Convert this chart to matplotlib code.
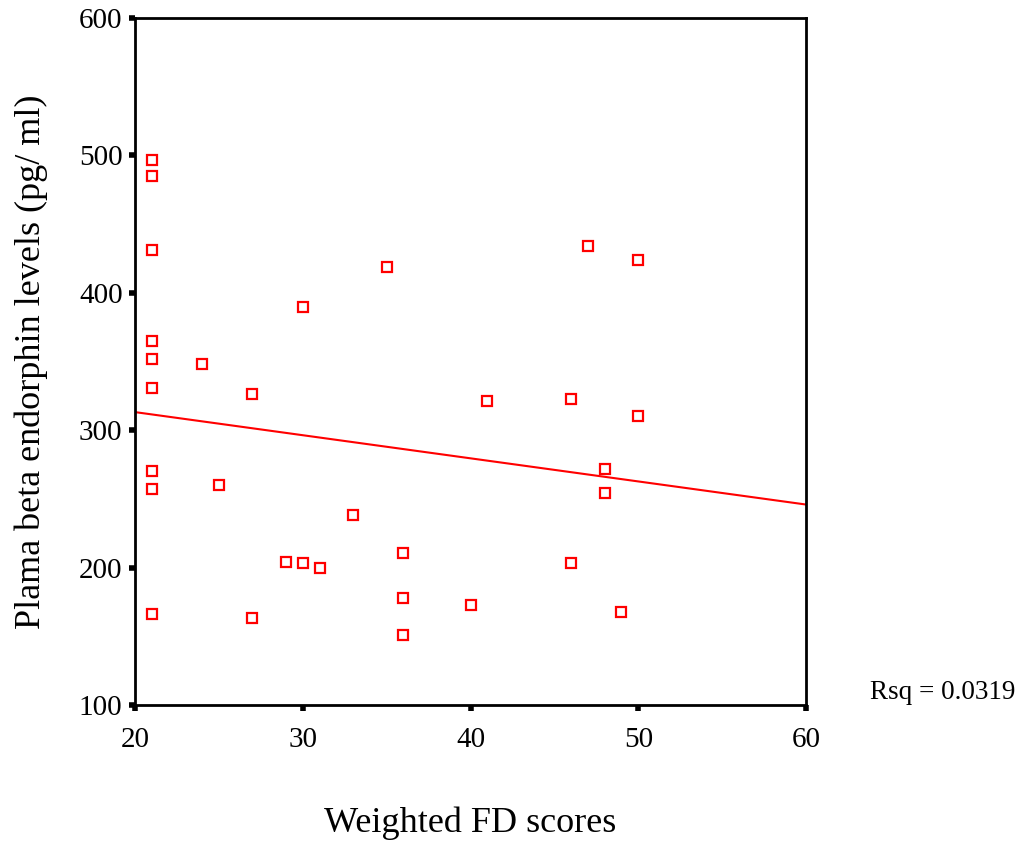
import numpy as np
import matplotlib
matplotlib.use("Agg")
import matplotlib.pyplot as plt

plt.rcParams["font.family"] = ["Liberation Serif", "DejaVu Serif"]

# weighted FD scores vs plasma beta endorphin (pg/ml)
fd_scores = [21, 21, 21, 21, 21, 21, 21, 21, 21,
             24, 25, 27, 27, 29, 30, 30, 31, 33, 35,
             36, 36, 36, 40, 41, 46, 46, 47, 48, 48, 49, 50, 50]
endorphin = [497, 485, 431, 365, 352, 331, 270, 257, 166,
             348, 260, 326, 163, 204, 203, 390, 200, 238, 419,
             211, 178, 151, 173, 321, 323, 203, 434, 272, 254, 168, 424, 310]
rsq_label = "Rsq = 0.0319"
x_ticks = [20, 30, 40, 50, 60]
y_ticks = [100, 200, 300, 400, 500, 600]

x = np.array(fd_scores, dtype=float)
y = np.array(endorphin, dtype=float)
slope, intercept = np.polyfit(x, y, 1)

fig = plt.figure(figsize=(10.29, 8.48), dpi=100)
ax = fig.add_axes([0.1312, 0.1686, 0.6521, 0.8102])

ax.plot(x, y, linestyle="none", marker="s", markersize=7.5,
        markerfacecolor="none", markeredgecolor="red", markeredgewidth=1.6)
xl = np.array([20, 60])
ax.plot(xl, intercept + slope * xl, color="red", linewidth=1.5)

ax.set_xlim(20, 60)
ax.set_ylim(100, 600)
ax.set_xticks(x_ticks)
ax.set_yticks(y_ticks)
ax.tick_params(direction="out", length=4, width=4, labelsize=21)
ax.tick_params(axis="x", pad=12)
ax.tick_params(axis="y", pad=5)
for s in ax.spines.values():
    s.set_linewidth(2)

ax.set_xlabel("Weighted FD scores", fontsize=26, labelpad=38)
ax.set_ylabel("Plama beta endorphin levels (pg/ ml)", fontsize=26, labelpad=22)

fig.text(0.845, 0.183, rsq_label, fontsize=19.5, va="center", ha="left")

fig.savefig("out.png", dpi=100)
plt.close(fig)
